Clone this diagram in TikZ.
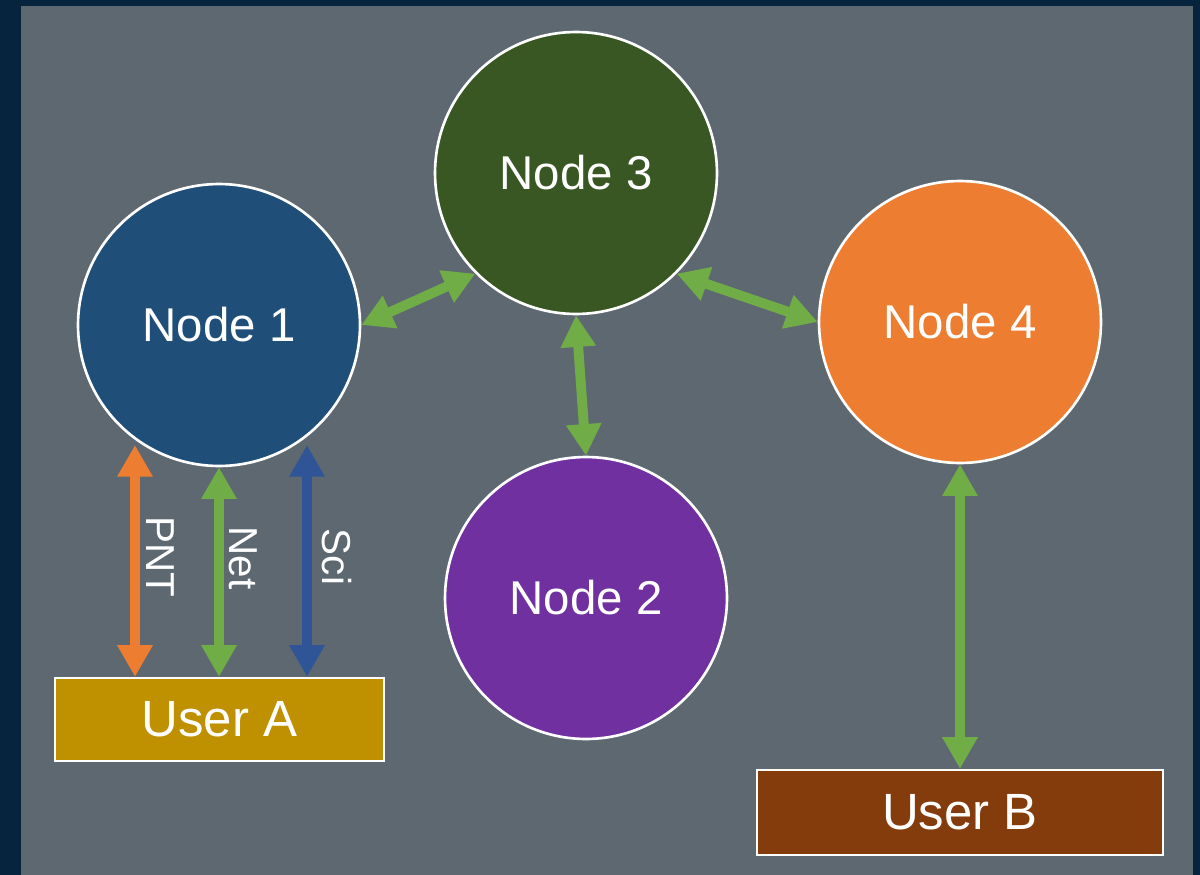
\documentclass[tikz,border=0pt]{standalone}
\usepackage{fontspec}
\setmainfont{Liberation Sans}
\usetikzlibrary{arrows.meta}
\definecolor{bgnavy}{RGB}{6,36,62}
\definecolor{panel}{RGB}{94,104,113}
\definecolor{nblue}{RGB}{31,78,121}
\definecolor{ngreen}{RGB}{56,87,35}
\definecolor{norange}{RGB}{237,125,49}
\definecolor{npurple}{RGB}{112,48,160}
\definecolor{ugold}{RGB}{191,144,0}
\definecolor{ubrown}{RGB}{132,60,12}
\definecolor{agreen}{RGB}{112,173,71}
\definecolor{ablue}{RGB}{47,85,151}
\tikzset{
  netnode/.style={circle, draw=white, line width=1.5pt, minimum size=5.64cm, inner sep=0pt, text=white, font=\fontsize{27}{30}\selectfont},
  userbox/.style={rectangle, draw=white, line width=1.3pt, inner sep=0pt, text=white, font=\fontsize{29}{32}\selectfont},
  link/.style={line width=5.6pt, {Triangle[length=18pt,width=19pt]}-{Triangle[length=18pt,width=19pt]}},
  lbl/.style={rotate=-90, text=white, font=\fontsize{23}{26}\selectfont}
}
\begin{document}
\begin{tikzpicture}[x=0.02cm, y=-0.02cm]
\fill[bgnavy] (0,0) rectangle (1200,875);
\fill[panel] (21,6) rectangle (1193,875);
\useasboundingbox (0,0) rectangle (1200,875);
\node[netnode, fill=nblue] (n1) at (219,325) {Node 1};
\node[netnode, fill=ngreen] (n3) at (576,173) {Node 3};
\node[netnode, fill=norange] (n4) at (960,322) {Node 4};
\node[netnode, fill=npurple] (n2) at (586,598) {Node 2};
\node[userbox, fill=ugold, minimum width=6.58cm, minimum height=1.66cm] (ua) at (219.5,719.5) {User A};
\node[userbox, fill=ubrown, minimum width=8.12cm, minimum height=1.7cm] (ub) at (960,812.5) {User B};
\draw[link, agreen] (n1.east) -- (n3.-135);
\draw[link, agreen] (n3.-45) -- (n4.west);
\draw[link, agreen] (n3.south) -- (n2.north);
\draw[link, agreen] (n4.south) -- (ub.north);
\coordinate (pt) at (135,445);
\coordinate (st) at (307,445);
\draw[link, norange] (pt) -- (pt |- ua.north);
\draw[link, agreen] (n1.south) -- (n1.south |- ua.north);
\draw[link, ablue] (st) -- (st |- ua.north);
\node[lbl] (lp) at (160,557) {PNT};
\node[lbl] (ln) at (243,558) {Net};
\node[lbl] (ls) at (337,557) {Sci};
\end{tikzpicture}
\end{document}
